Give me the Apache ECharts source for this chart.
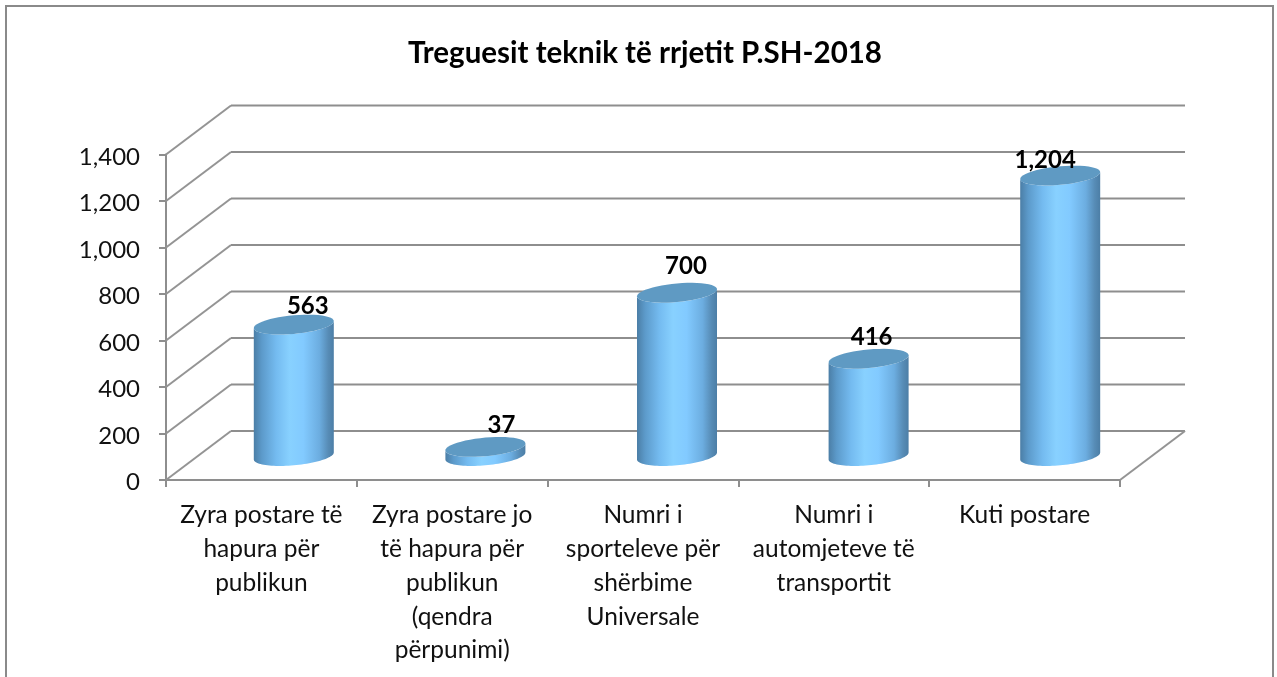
<!DOCTYPE html>
<html><head><meta charset="utf-8">
<style>html,body{margin:0;padding:0;background:#fff}#c{width:1277px;height:677px}</style>
<script src="https://cdn.jsdelivr.net/npm/echarts@6/dist/echarts.min.js"></script>
</head><body><div id="c"></div>
<script>
const categories = [
  "Zyra postare të\nhapura për\npublikun",
  "Zyra postare jo\ntë hapura për\npublikun\n(qendra\npërpunimi)",
  "Numri i\nsporteleve për\nshërbime\nUniversale",
  "Numri i\nautomjeteve të\ntransportit",
  "Kuti postare"
];
const values = [563, 37, 700, 416, 1204];
const valueLabels = ["563", "37", "700", "416", "1,204"];
const yTicks = [0, 200, 400, 600, 800, 1000, 1200, 1400];
const labelNudgeX = [14, 16, 9, 3, -15];
const labelNudgeY = [18, 22, 26, 22, 15];

const DEPTH_X = 65, DEPTH_Y = 49;
const FONT = 'Lato,"Open Sans",sans-serif';

function ring(cx, cy, from, to) {
  const pts = [];
  for (let i = 0; i <= 48; i++) {
    const t = from + (to - from) * i / 48;
    pts.push([cx + 40 * Math.cos(t), cy - 3.5 * Math.cos(t) + 9.3 * Math.sin(t)]);
  }
  return pts;
}
const bodyFill = new echarts.graphic.LinearGradient(0, 0, 1, 0, [
  {offset: 0, color: '#4b7ea6'}, {offset: 0.1, color: '#5c9aca'}, {offset: 0.28, color: '#74bbf0'},
  {offset: 0.45, color: '#88d1ff'}, {offset: 0.62, color: '#82caff'}, {offset: 0.82, color: '#6cade0'},
  {offset: 0.93, color: '#578cb6'}, {offset: 1, color: '#4c7ea6'}
]);

const option = {
  animation: false,
  backgroundColor: '#fff',
  title: {
    text: 'Treguesit teknik të rrjetit P.SH-2018', left: 640, top: 33, textAlign: 'center',
    textStyle: {fontFamily: FONT, fontWeight: 'bold', fontSize: 29.5, color: '#000'}
  },
  grid: {left: 166, right: 157, top: 154.5, bottom: 197},
  xAxis: {
    type: 'category', data: categories, boundaryGap: true,
    axisLine: {lineStyle: {color: '#8e8e8e', width: 2}},
    axisTick: {show: true, length: 7, alignWithLabel: false, lineStyle: {color: '#8e8e8e', width: 2}},
    axisLabel: {interval: 0, margin: 18, fontFamily: FONT, fontSize: 24.5, lineHeight: 33.9, color: '#111'}
  },
  yAxis: {
    type: 'value', min: 0, max: 1400, interval: 200,
    axisLine: {show: true, lineStyle: {color: '#8e8e8e', width: 2}},
    axisTick: {show: true, length: 7, lineStyle: {color: '#8e8e8e', width: 2}},
    axisLabel: {margin: 26, color: '#111',
      formatter: v => '{t|' + v.toLocaleString('en-US') + '}',
      rich: {t: {fontFamily: FONT, fontSize: 24, color: '#111', padding: [5, 0, 0, 0]}}},
    splitLine: {show: false}
  },
  graphic: [{type: 'polyline', silent: true, z: 0,
    shape: {points: [[6, 677], [6, 6], [1273, 6], [1273, 677]]},
    style: {stroke: '#8a8a8a', lineWidth: 2, fill: null}}],
  series: [
    {
      type: 'custom', coordinateSystem: 'cartesian2d', z: 1, silent: true,
      data: yTicks.map(v => [0, v]),
      renderItem(params, api) {
        const p = api.coord([0, api.value(1)]);
        const g = params.coordSys, v = api.value(1);
        const left = g.x, right = g.x + g.width;
        const children = [
          {type: 'line', shape: {x1: left, y1: p[1], x2: left + DEPTH_X, y2: p[1] - DEPTH_Y},
            style: {stroke: '#949494', lineWidth: 2}},
          {type: 'line', shape: {x1: left + DEPTH_X, y1: p[1] - DEPTH_Y, x2: right + DEPTH_X, y2: p[1] - DEPTH_Y},
            style: {stroke: '#8e8e8e', lineWidth: 2}}
        ];
        if (v === 0) children.push({type: 'line',
          shape: {x1: right, y1: p[1], x2: right + DEPTH_X, y2: p[1] - DEPTH_Y},
          style: {stroke: '#949494', lineWidth: 2}});
        return {type: 'group', children};
      }
    },
    {
      type: 'custom', coordinateSystem: 'cartesian2d', z: 3, silent: true,
      data: values.map((v, i) => [i, v]),
      clip: false,
      renderItem(params, api) {
        const i = api.value(0), v = api.value(1);
        const top = api.coord([i, v]), base = api.coord([i, 0]);
        const cx = top[0] + DEPTH_X / 2 + 1.5 + (i - 2) * 0.8, ty = top[1] - DEPTH_Y / 2, by = base[1] - DEPTH_Y / 2 + 0.5;
        const body = ring(cx, by, Math.PI, 0).concat(ring(cx, ty, 0, Math.PI));
        return {type: 'group', children: [
          {type: 'polygon', shape: {points: body}, style: {fill: bodyFill}},
          {type: 'polygon', shape: {points: ring(cx, ty, 0, Math.PI * 2)}, style: {fill: '#5f9ac3'}},
          {type: 'text', style: {text: valueLabels[params.dataIndex],
            x: cx + labelNudgeX[params.dataIndex], y: ty - labelNudgeY[params.dataIndex],
            align: 'center', verticalAlign: 'middle',
            font: 'bold 24px ' + FONT, fill: '#000'}}
        ]};
      }
    }
  ]
};
const chart = echarts.init(document.getElementById('c'), null, {renderer: 'canvas'});
chart.setOption(option);
</script></body></html>
